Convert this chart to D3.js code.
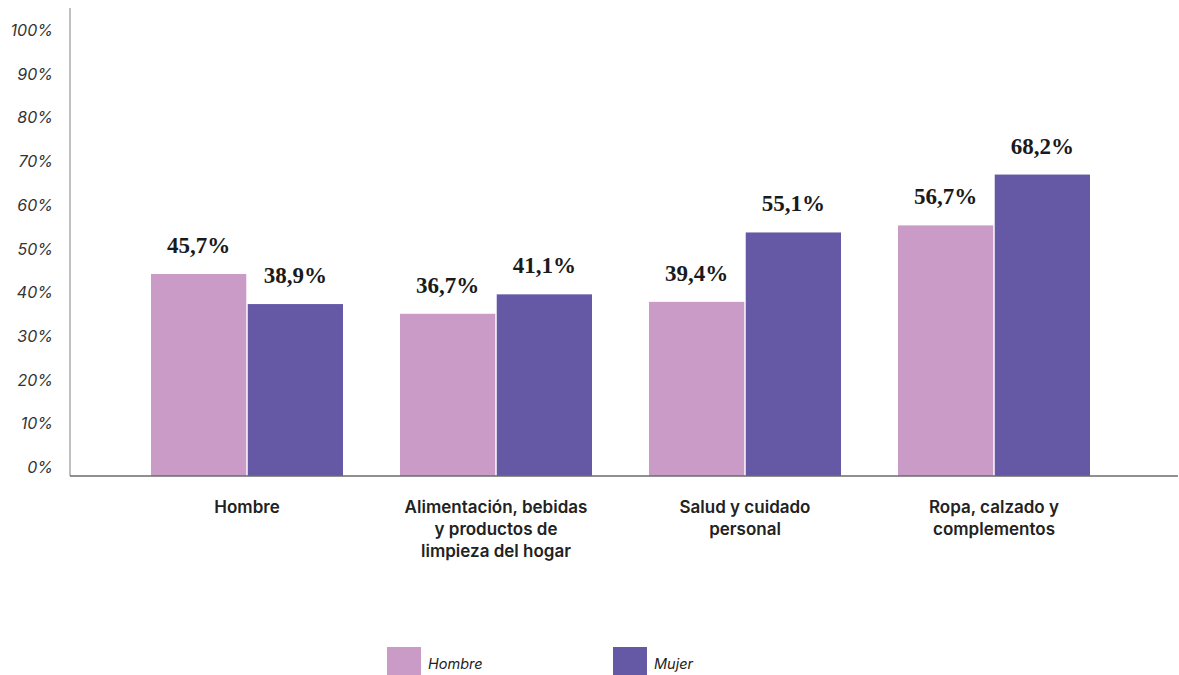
<!DOCTYPE html>
<html>
<head>
<meta charset="utf-8">
<script src="https://cdn.jsdelivr.net/npm/d3@7"></script>
<style>
  html, body { margin: 0; padding: 0; background: #fff; }
  svg { display: block; }
</style>
</head>
<body>
<svg id="chart" width="1179" height="675"></svg>
<script>
// Category labels (line-broken as displayed)
const categories = [
  ["Hombre"],
  ["Alimentación, bebidas", "y productos de", "limpieza del hogar"],
  ["Salud y cuidado", "personal"],
  ["Ropa, calzado y", "complementos"]
];
const seriesNames = ["Hombre", "Mujer"];
const hombreValues = [45.7, 36.7, 39.4, 56.7];
const mujerValues = [38.9, 41.1, 55.1, 68.2];
const yTicks = [0, 10, 20, 30, 40, 50, 60, 70, 80, 90, 100];
const colors = ["#C99BC6", "#6559A6"];

const svg = d3.select("#chart");
const axisX = 70, baseY = 476, topY = 34;

const y = d3.scaleLinear().domain([0, 100]).range([baseY, topY]);
// tick labels sit just above their gridline positions
const yLabel = d3.scaleLinear().domain([0, 100]).range([baseY - 3, topY + 2]);

const catIdx = d3.range(categories.length);
const x0 = d3.scaleBand().domain(catIdx).range([122.5, 1118.5])
  .paddingInner(57 / 249).paddingOuter(57 / 498);
const x1 = d3.scaleBand().domain(seriesNames).range([0, x0.bandwidth()]).paddingInner(0.015);

const sansFont = "Inter, 'Open Sans', sans-serif";
const serifFont = "'Liberation Serif', 'DejaVu Serif', serif";

// Y tick labels
svg.append("g").selectAll("text").data(yTicks).join("text")
  .attr("x", 53).attr("y", d => yLabel(d))
  .attr("text-anchor", "end")
  .attr("font-family", sansFont).attr("font-style", "italic")
  .attr("font-size", 16).attr("fill", "#333")
  .text(d => d + "%");

// Bars
const data = catIdx.map(i => [
  { s: seriesNames[0], v: hombreValues[i] },
  { s: seriesNames[1], v: mujerValues[i] }
]);
const groups = svg.append("g").selectAll("g").data(data).join("g")
  .attr("transform", (d, i) => `translate(${x0(i)},0)`);

groups.selectAll("rect").data(d => d).join("rect")
  .attr("x", d => x1(d.s)).attr("width", x1.bandwidth())
  .attr("y", d => y(d.v)).attr("height", d => baseY - y(d.v))
  .attr("fill", (d, j) => colors[j]);

groups.selectAll("text.val").data(d => d).join("text")
  .attr("class", "val")
  .attr("x", d => x1(d.s) + x1.bandwidth() / 2)
  .attr("y", d => y(d.v) - 21)
  .attr("text-anchor", "middle")
  .attr("font-family", serifFont).attr("font-weight", "bold")
  .attr("font-size", 23).attr("fill", "#1a1a1a")
  .text(d => d.v.toFixed(1).replace(".", ",") + "%");

// Axes lines
svg.append("line").attr("x1", axisX).attr("x2", axisX).attr("y1", 8).attr("y2", baseY)
  .attr("stroke", "#aaaaaa").attr("stroke-width", 1.5);
svg.append("line").attr("x1", axisX).attr("x2", 1178).attr("y1", baseY).attr("y2", baseY)
  .attr("stroke", "#6b6b6b").attr("stroke-width", 1.5);

// Category labels
const catText = svg.append("g").selectAll("text").data(categories).join("text")
  .attr("text-anchor", "middle")
  .attr("font-family", sansFont).attr("font-weight", "600")
  .attr("font-size", 17).attr("fill", "#222");
catText.each(function(lines, i) {
  const cx = x0(i) + x0.bandwidth() / 2;
  d3.select(this).selectAll("tspan").data(lines).join("tspan")
    .attr("x", cx).attr("y", (l, k) => 513 + k * 22)
    .text(l => l);
});

// Legend
const legendX = [387, 613];
const legend = svg.append("g").selectAll("g").data(seriesNames).join("g")
  .attr("transform", (d, i) => `translate(${legendX[i]},647)`);
legend.append("rect").attr("width", 34).attr("height", 28).attr("fill", (d, i) => colors[i]);
legend.append("text").attr("x", 41).attr("y", 22)
  .attr("font-family", sansFont).attr("font-style", "italic")
  .attr("font-size", 14.5).attr("fill", "#222")
  .text(d => d);
</script>
</body>
</html>
